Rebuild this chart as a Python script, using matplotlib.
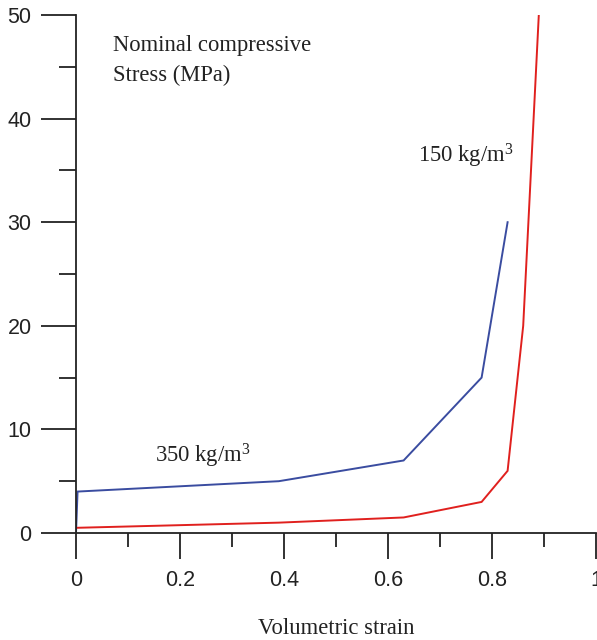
import matplotlib
matplotlib.use("Agg")
import matplotlib.pyplot as plt
from matplotlib.ticker import MultipleLocator, FuncFormatter

# Volumetric strain vs. nominal compressive stress for two foam densities
strain_350 = [0.0, 0.003, 0.39, 0.63, 0.78, 0.83]
stress_350 = [0.0, 4.0, 5.0, 7.0, 15.0, 30.0]

strain_150 = [0.0, 0.39, 0.63, 0.78, 0.83, 0.86, 0.89]
stress_150 = [0.5, 1.0, 1.5, 3.0, 6.0, 20.0, 50.0]

x_ticks = [0, 0.2, 0.4, 0.6, 0.8, 1]
y_ticks = [0, 10, 20, 30, 40, 50]

serif = "Liberation Serif"
tick_font = "Liberation Sans"
plt.rcParams["mathtext.fontset"] = "custom"
plt.rcParams["mathtext.rm"] = serif
plt.rcParams["mathtext.it"] = serif + ":italic"

fig = plt.figure(figsize=(5.97, 6.4), dpi=100)
ax = fig.add_axes([76 / 597, 107 / 640, 520 / 597, 518 / 640])

ax.plot(strain_350, stress_350, color="#3a4ca0", lw=1.4, solid_joinstyle="miter")
ax.plot(strain_150, stress_150, color="#e0201e", lw=1.4, solid_joinstyle="miter")

ax.set_xlim(0, 1)
ax.set_ylim(0, 50)
for s in ("top", "right"):
    ax.spines[s].set_visible(False)
for s in ("left", "bottom"):
    ax.spines[s].set_linewidth(1.3)
    ax.spines[s].set_color("#222222")

ax.set_xticks(x_ticks)
ax.set_yticks(y_ticks)
ax.xaxis.set_minor_locator(MultipleLocator(0.1))
ax.yaxis.set_minor_locator(MultipleLocator(5))
ax.xaxis.set_major_formatter(FuncFormatter(lambda v, p: "%g" % v))

ax.tick_params(axis="x", which="major", direction="out", length=18.7, width=1.3,
               pad=8, labelsize=15.5, color="#222222")
ax.tick_params(axis="x", which="minor", direction="out", length=10, width=1.3,
               color="#222222")
ax.tick_params(axis="y", which="major", direction="out", length=25, width=1.3,
               pad=7, labelsize=15.5, color="#222222")
ax.tick_params(axis="y", which="minor", direction="out", length=12.2, width=1.3,
               color="#222222")
for lab in ax.get_xticklabels() + ax.get_yticklabels():
    lab.set_fontfamily(tick_font)
    lab.set_color("#222222")

txt = dict(family=serif, fontsize=16.3, color="#222222", va="center")
fig.text(113 / 597, 1 - 45 / 640, "Nominal compressive", ha="left", **txt)
fig.text(113 / 597, 1 - 75 / 640, "Stress (MPa)", ha="left", **txt)
fig.text(418 / 597, 1 - 156 / 640, r"150 kg/m$^3$", ha="left", **txt)
fig.text(155 / 597, 1 - 456 / 640, r"350 kg/m$^3$", ha="left", **txt)
fig.text(336 / 597, 1 - 628 / 640, "Volumetric strain", ha="center", **txt)

fig.savefig("out.png", dpi=100)
